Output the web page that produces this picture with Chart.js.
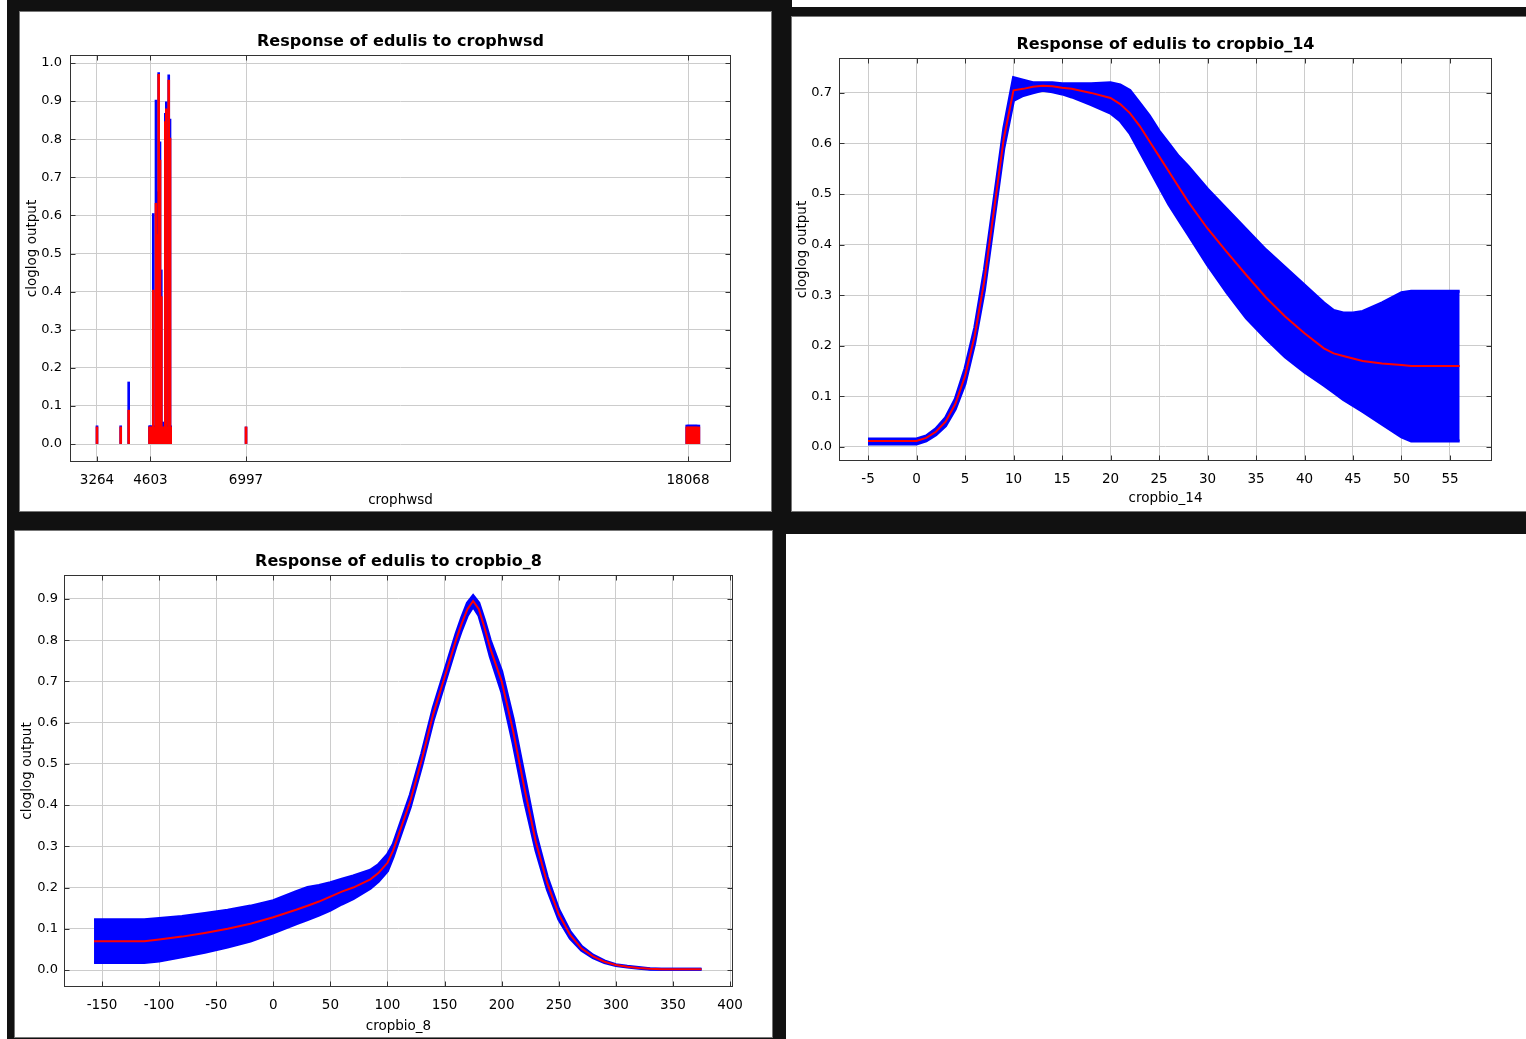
<!DOCTYPE html>
<html><head><meta charset="utf-8">
<script src="https://cdn.jsdelivr.net/npm/chart.js@4.4.0/dist/chart.umd.min.js"></script>
<style>
html,body{margin:0;padding:0;background:#fff;width:1526px;height:1039px;overflow:hidden;position:relative}
.dark{position:absolute;background:#111}
.panel{position:absolute;border:1px solid #777;background:#fff}
.panel canvas{display:block}
</style></head><body>
<div class="dark" style="left:7px;top:0;width:785px;height:531px"></div>
<div class="dark" style="left:783px;top:7px;width:743px;height:527px"></div>
<div class="dark" style="left:7px;top:511px;width:779px;height:528px"></div>
<div class="panel" style="left:19px;top:11px"><canvas id="c1" width="751" height="499"></canvas></div>
<div class="panel" style="left:791px;top:16px"><canvas id="c2" width="734" height="494"></canvas></div>
<div class="panel" style="left:14px;top:530px"><canvas id="c3" width="757" height="506"></canvas></div>
<script>
// ---- Data: crophwsd (categorical) ----
const crophwsdCategories = [3264, 3858, 4058, 4579, 4603, 4642, 4674, 4704, 4742, 4775, 4809, 4842, 4875, 4910, 4943, 4976, 5001, 5030, 5061, 5093, 5110, 6997, 18036, 18068, 18100, 18132, 18164, 18196, 18228, 18260, 18290, 18340];
const crophwsdMean = [0.045, 0.045, 0.089, 0.045, 0.045, 0.045, 0.404, 0.045, 0.632, 0.55, 0.97, 0.745, 0.387, 0.045, 0.045, 0.846, 0.88, 0.045, 0.955, 0.803, 0.045, 0.045, 0.045, 0.045, 0.045, 0.045, 0.045, 0.045, 0.045, 0.045, 0.045, 0.045];
const crophwsdUpper = [0.048, 0.048, 0.163, 0.048, 0.048, 0.048, 0.605, 0.048, 0.903, 0.662, 0.975, 0.793, 0.457, 0.058, 0.048, 0.868, 0.898, 0.048, 0.969, 0.853, 0.048, 0.045, 0.05, 0.05, 0.05, 0.05, 0.05, 0.05, 0.05, 0.05, 0.05, 0.05];
const crophwsdTicks = [3264, 4603, 6997, 18068];
const yTicks1 = [0, 0.1, 0.2, 0.3, 0.4, 0.5, 0.6, 0.7, 0.8, 0.9, 1.0];

// ---- Data: cropbio_14 ----
const bio14X =     [-5, -4, -3, -2, -1, 0, 1, 2, 3, 4, 5, 6, 7, 8, 9, 10, 11, 12, 13, 14, 15, 16, 18, 20, 21, 22, 23, 24, 25, 26, 27, 28, 30, 32, 34, 36, 38, 40, 42, 43, 44, 45, 46, 48, 50, 51, 52, 54, 56];
const bio14Mean =  [0.012, 0.012, 0.012, 0.012, 0.012, 0.012, 0.018, 0.03, 0.05, 0.085, 0.14, 0.22, 0.33, 0.47, 0.61, 0.705, 0.708, 0.712, 0.714, 0.713, 0.71, 0.708, 0.70, 0.69, 0.678, 0.66, 0.635, 0.605, 0.575, 0.545, 0.515, 0.485, 0.432, 0.385, 0.34, 0.296, 0.258, 0.225, 0.195, 0.185, 0.18, 0.175, 0.17, 0.165, 0.162, 0.16, 0.16, 0.16, 0.16];
const bio14Upper = [0.016, 0.016, 0.016, 0.016, 0.016, 0.016, 0.022, 0.036, 0.058, 0.095, 0.155, 0.235, 0.35, 0.49, 0.63, 0.73, 0.725, 0.72, 0.72, 0.72, 0.718, 0.718, 0.718, 0.72, 0.716, 0.705, 0.68, 0.655, 0.625, 0.6, 0.575, 0.555, 0.51, 0.47, 0.43, 0.39, 0.355, 0.32, 0.285, 0.27, 0.265, 0.265, 0.268, 0.285, 0.305, 0.308, 0.308, 0.308, 0.308];
const bio14Lower = [0.006, 0.006, 0.006, 0.006, 0.006, 0.006, 0.012, 0.024, 0.042, 0.075, 0.125, 0.205, 0.31, 0.45, 0.59, 0.685, 0.695, 0.70, 0.705, 0.702, 0.698, 0.692, 0.677, 0.66, 0.645, 0.62, 0.585, 0.55, 0.515, 0.48, 0.45, 0.42, 0.36, 0.305, 0.255, 0.215, 0.178, 0.148, 0.122, 0.108, 0.094, 0.082, 0.07, 0.045, 0.02, 0.012, 0.012, 0.012, 0.012];
const bio14Ticks = [-5, 0, 5, 10, 15, 20, 25, 30, 35, 40, 45, 50, 55];
const yTicks2 = [0, 0.1, 0.2, 0.3, 0.4, 0.5, 0.6, 0.7];

// ---- Data: cropbio_8 ----
const bio8X =     [-157, -140, -113, -100, -80, -60, -40, -20, 0, 20, 30, 40, 50, 60, 70, 85, 92, 100, 105, 110, 120, 130, 140, 150, 160, 165, 170, 175, 180, 185, 190, 200, 210, 220, 230, 240, 250, 260, 270, 280, 290, 300, 310, 320, 330, 340, 350, 375];
const bio8Mean =  [0.07, 0.07, 0.07, 0.074, 0.081, 0.09, 0.10, 0.112, 0.128, 0.146, 0.156, 0.166, 0.178, 0.19, 0.2, 0.22, 0.235, 0.26, 0.29, 0.33, 0.41, 0.51, 0.62, 0.71, 0.80, 0.84, 0.875, 0.895, 0.875, 0.83, 0.78, 0.70, 0.58, 0.44, 0.31, 0.21, 0.135, 0.085, 0.052, 0.033, 0.02, 0.012, 0.008, 0.005, 0.003, 0.002, 0.002, 0.002];
const bio8Upper = [0.122, 0.122, 0.122, 0.125, 0.13, 0.137, 0.145, 0.155, 0.168, 0.19, 0.2, 0.205, 0.212, 0.22, 0.228, 0.242, 0.255, 0.28, 0.305, 0.345, 0.425, 0.525, 0.635, 0.725, 0.815, 0.855, 0.89, 0.908, 0.89, 0.848, 0.80, 0.725, 0.61, 0.47, 0.33, 0.225, 0.147, 0.093, 0.057, 0.036, 0.022, 0.013, 0.009, 0.006, 0.003, 0.002, 0.002, 0.002];
const bio8Lower = [0.018, 0.018, 0.018, 0.022, 0.032, 0.043, 0.056, 0.07, 0.09, 0.112, 0.122, 0.133, 0.145, 0.16, 0.173, 0.198, 0.215, 0.24, 0.275, 0.315, 0.395, 0.495, 0.605, 0.695, 0.785, 0.825, 0.86, 0.882, 0.86, 0.812, 0.76, 0.675, 0.55, 0.41, 0.29, 0.195, 0.123, 0.077, 0.048, 0.03, 0.018, 0.011, 0.007, 0.004, 0.002, 0.002, 0.002, 0.002];
const bio8Ticks = [-150, -100, -50, 0, 50, 100, 150, 200, 250, 300, 350, 400];
const yTicks3 = [0, 0.1, 0.2, 0.3, 0.4, 0.5, 0.6, 0.7, 0.8, 0.9];

const FONT = "'DejaVu Sans', sans-serif";
const RED = '#ff0000', BLUE = '#0000ff';

const framePlugin = {
  id: 'frame',
  afterDraw(chart) {
    const {ctx, chartArea: a, scales: {x, y}} = chart;
    ctx.save();
    ctx.strokeStyle = '#333';
    ctx.lineWidth = 1;
    const L = Math.round(a.left) + 0.5, R = Math.round(a.right) - 0.5;
    const T = Math.round(a.top) + 0.5, B = Math.round(a.bottom) - 0.5;
    ctx.strokeRect(L, T, R - L, B - T);
    ctx.beginPath();
    x.ticks.forEach(t => {
      const px = Math.round(x.getPixelForValue(t.value)) + 0.5;
      ctx.moveTo(px, B); ctx.lineTo(px, B - 5);
      ctx.moveTo(px, T); ctx.lineTo(px, T + 5);
    });
    y.ticks.forEach(t => {
      const py = Math.round(y.getPixelForValue(t.value)) + 0.5;
      ctx.moveTo(L, py); ctx.lineTo(L + 5, py);
      ctx.moveTo(R, py); ctx.lineTo(R - 5, py);
    });
    ctx.stroke();
    // y-axis title
    const yt = chart.options.plugins.frame || {};
    ctx.fillStyle = '#000';
    ctx.font = "13.5px " + FONT;
    ctx.textAlign = 'center';
    ctx.textBaseline = 'middle';
    ctx.translate(yt.titleX, (a.top + a.bottom) / 2 + yt.shift);
    ctx.rotate(-Math.PI / 2);
    ctx.fillText('cloglog output', 0, 0);
    ctx.restore();
  }
};

function makeOptions(c) {
  return {
    responsive: false, animation: false, devicePixelRatio: 1,
    layout: {padding: {left: 0, right: c.right, top: 0, bottom: 0}},
    plugins: {
      legend: {display: false}, tooltip: {enabled: false},
      frame: {titleX: c.ytx, shift: -10},
      title: {display: true, fullSize: false, text: c.title, color: '#000',
        font: {family: FONT, size: 16, weight: 'bold'},
        padding: {top: c.titleTop, bottom: c.titleBottom}}
    },
    scales: {
      x: {
        type: 'linear', min: c.xmin, max: c.xmax, offset: false,
        afterFit: s => { s.height = c.xh; },
        afterBuildTicks: s => { s.ticks = c.xticks.map(v => ({value: v})); },
        ticks: {autoSkip: false, maxRotation: 0, minRotation: 0, padding: 10, color: '#000',
          font: {family: FONT, size: 13.5}, callback: v => String(v)},
        grid: {color: '#cccccc', drawTicks: false, offset: false},
        border: {display: false},
        title: {display: true, text: c.xtitle, color: '#000', font: {family: FONT, size: 13.5},
          padding: {top: 0, bottom: c.xtpad}}
      },
      y: {
        type: 'linear', min: c.ymin, max: c.ymax,
        afterFit: s => { s.width = c.yw; },
        afterBuildTicks: s => { s.ticks = c.yticks.map(v => ({value: v})); },
        ticks: {autoSkip: false, padding: c.ytickpad, color: '#000',
          font: {family: FONT, size: 13}, callback: v => Number(v).toFixed(1)},
        grid: {color: '#cccccc', drawTicks: false},
        border: {display: false},
        title: {display: false}
      }
    }
  };
}

const pts = (xs, ys) => xs.map((x, i) => ({x: x, y: ys[i]}));

// Chart 1
new Chart(document.getElementById('c1'), {
  type: 'bar',
  data: {datasets: [
    {data: pts(crophwsdCategories, crophwsdMean), backgroundColor: RED, barThickness: 2, grouped: false, order: 0},
    {data: pts(crophwsdCategories, crophwsdUpper), backgroundColor: BLUE, barThickness: 2, grouped: false, order: 1}
  ]},
  options: makeOptions({title: 'Response of edulis to crophwsd', right: 40, titleTop: 20.4, titleBottom: 3.4,
    xmin: 2588, xmax: 19145, xticks: crophwsdTicks, xh: 49, xtitle: 'crophwsd', xtpad: 2.9,
    ymin: -0.047, ymax: 1.021, yticks: yTicks1, yw: 50, ytickpad: 8, ytx: 12}),
  plugins: [framePlugin]
});

function bandDatasets(xs, up, lo, mean) {
  return [
    {data: pts(xs, up), borderColor: BLUE, backgroundColor: BLUE, borderWidth: 3, pointRadius: 0, fill: '+1', order: 2, tension: 0},
    {data: pts(xs, lo), borderColor: BLUE, backgroundColor: BLUE, borderWidth: 3, pointRadius: 0, fill: false, order: 1, tension: 0},
    {data: pts(xs, mean), borderColor: RED, borderWidth: 2, pointRadius: 0, fill: false, order: 0, tension: 0}
  ];
}

// Chart 2
new Chart(document.getElementById('c2'), {
  type: 'line',
  data: {datasets: bandDatasets(bio14X, bio14Upper, bio14Lower, bio14Mean)},
  options: makeOptions({title: 'Response of edulis to cropbio_14', right: 34, titleTop: 18.4, titleBottom: 3.4,
    xmin: -7.99, xmax: 59.33, xticks: bio14Ticks, xh: 50, xtitle: 'cropbio_14', xtpad: 4.9,
    ymin: -0.0277, ymax: 0.769, yticks: yTicks2, yw: 47, ytickpad: 7, ytx: 10}),
  plugins: [framePlugin]
});

// Chart 3
new Chart(document.getElementById('c3'), {
  type: 'line',
  data: {datasets: bandDatasets(bio8X, bio8Upper, bio8Lower, bio8Mean)},
  options: makeOptions({title: 'Response of edulis to cropbio_8', right: 39, titleTop: 21.4, titleBottom: 3.4,
    xmin: -183.3, xmax: 402.6, xticks: bio8Ticks, xh: 50, xtitle: 'cropbio_8', xtpad: 2.9,
    ymin: -0.0412, ymax: 0.958, yticks: yTicks3, yw: 49, ytickpad: 6, ytx: 12}),
  plugins: [framePlugin]
});
</script>
</body></html>
